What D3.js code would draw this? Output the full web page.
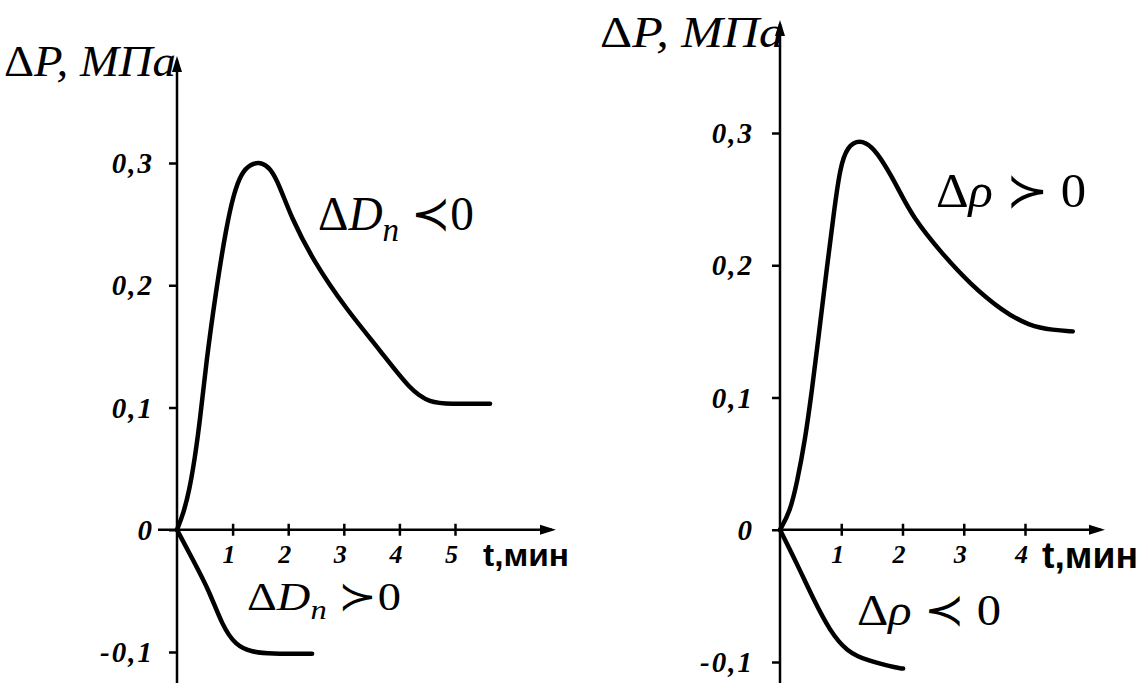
<!DOCTYPE html>
<html>
<head>
<meta charset="utf-8">
<script src="https://cdn.jsdelivr.net/npm/d3@7"></script>
<style>
  html, body { margin: 0; padding: 0; background: #fff; }
  svg { display: block; }
</style>
</head>
<body>
<div id="chart"></div>
<script>
// data (t in minutes, dP in MPa)
var yTicks = [-0.1, 0, 0.1, 0.2, 0.3];
var leftXTicks = [1, 2, 3, 4, 5];
var rightXTicks = [1, 2, 3, 4];

// left panel, dD < 0
var leftUpT = [0, 0.12, 0.22, 0.32, 0.42, 0.52, 0.70, 0.88, 1.02, 1.16, 1.32, 1.50, 1.68, 1.85, 2.05, 2.45, 3.05, 3.65, 4.20, 4.55, 4.90, 5.63];
var leftUpP = [0, 0.014, 0.032, 0.058, 0.092, 0.135, 0.195, 0.246, 0.275, 0.292, 0.299, 0.301, 0.296, 0.281, 0.256, 0.220, 0.180, 0.147, 0.114, 0.104, 0.103, 0.103];
// left panel, dD > 0
var leftDownT = [0, 0.29, 0.58, 0.81, 1.06, 1.35, 1.67, 2.43];
var leftDownP = [0, -0.025, -0.050, -0.078, -0.095, -0.100, -0.1015, -0.1015];
// right panel, drho > 0
var rightUpT = [0, 0.16, 0.28, 0.41, 0.52, 0.62, 0.77, 0.88, 0.98, 1.10, 1.30, 1.50, 1.70, 1.92, 2.17, 2.66, 3.10, 3.64, 4.08, 4.46, 4.78];
var rightUpP = [0, 0.013, 0.036, 0.068, 0.105, 0.142, 0.200, 0.240, 0.274, 0.290, 0.295, 0.290, 0.277, 0.259, 0.236, 0.208, 0.186, 0.165, 0.154, 0.151, 0.150];
// right panel, drho < 0
var rightDownT = [0, 0.28, 0.54, 0.82, 1.09, 1.42, 1.96, 2.01];
var rightDownP = [0, -0.026, -0.052, -0.077, -0.092, -0.099, -0.105, -0.105];

var W = 1148, H = 683;
var serif = "'Liberation Serif', 'DejaVu Serif', serif";
var sans = "'Liberation Sans', Arial, sans-serif";

var svg = d3.select('#chart').append('svg').attr('width', W).attr('height', H);

var fmt = function (d) { return d === 0 ? '0' : d3.format('.1f')(d).replace('.', ',').replace('\u2212', '-'); };

function arrowHead(g, x, y, dir) {
    // filled triangle pointing up or right
    var p;
    if (dir === 'up') p = [[x, y], [x - 5, y + 16], [x + 5, y + 16]];
    else p = [[x, y], [x - 16, y - 5], [x - 16, y + 5]];
    g.append('path').attr('d', 'M' + p.join('L') + 'Z').attr('fill', '#000');
}

function drawPanel(cfg) {
    var g = svg.append('g');
    var x = d3.scaleLinear().domain(cfg.xDomain).range(cfg.xRange);
    var y = d3.scaleLinear().domain([-0.1, 0.3]).range(cfg.yRange);
    var x0 = x(0), y0 = y(0);

    // y axis ticks
    var ya = g.append('g').attr('transform', 'translate(' + x0 + ',0)')
        .call(d3.axisLeft(y).tickValues(yTicks).tickSize(8).tickPadding(cfg.yPad).tickFormat(fmt));
    ya.attr('font-size', null).attr('font-family', null);
    ya.select('.domain').remove();
    ya.selectAll('.tick line').attr('stroke-width', 2.5);
    ya.selectAll('.tick text').attr('font-family', serif).attr('font-style', 'italic')
        .attr('font-weight', 'bold').attr('font-size', 29).attr('letter-spacing', 2).attr('dy', '0.33em');

    // x axis ticks
    var xa = g.append('g').attr('transform', 'translate(0,' + y0 + ')')
        .call(d3.axisBottom(x).tickValues(cfg.xTicks).tickSize(6).tickPadding(9).tickFormat(d3.format('d')));
    xa.attr('font-size', null).attr('font-family', null);
    xa.select('.domain').remove();
    xa.selectAll('.tick line').attr('y1', -6).attr('y2', 6).attr('stroke-width', 2.5);
    xa.selectAll('.tick text').attr('font-family', serif).attr('font-style', 'italic')
        .attr('font-weight', 'bold').attr('font-size', 26).attr('dx', -4);

    // axis lines with arrows
    g.append('line').attr('x1', x0).attr('x2', x0).attr('y1', H).attr('y2', cfg.yTop + 4)
        .attr('stroke', '#000').attr('stroke-width', 2.5);
    arrowHead(g, x0, cfg.yTop, 'up');
    g.append('line').attr('x1', cfg.xStart).attr('x2', cfg.xEnd - 4).attr('y1', y0).attr('y2', y0)
        .attr('stroke', '#000').attr('stroke-width', 2.5);
    arrowHead(g, cfg.xEnd, y0, 'right');

    // curves
    var line = d3.line().x(function (d) { return x(d[0]); }).y(function (d) { return y(d[1]); })
        .curve(d3.curveBasis);
    cfg.series.forEach(function (s) {
        g.append('path').datum(d3.zip(s[0], s[1])).attr('d', line)
            .attr('fill', 'none').attr('stroke', '#000').attr('stroke-width', 4.5)
            .attr('stroke-linecap', 'round').attr('stroke-linejoin', 'round');
    });

    // axis titles
    var yt = g.append('text').attr('x', cfg.yTitle[0]).attr('y', cfg.yTitle[1])
        .attr('font-family', serif).attr('font-style', 'italic').attr('font-size', 44)
        .attr('textLength', cfg.yTitle[2]).attr('lengthAdjust', 'spacingAndGlyphs');
    yt.append('tspan').attr('font-style', 'normal').text('\u0394');
    yt.append('tspan').text('P, \u041C\u041F\u0430');

    g.append('text').attr('x', cfg.xTitle[0]).attr('y', cfg.xTitle[1])
        .attr('font-family', sans).attr('font-weight', 'bold').attr('font-size', cfg.xTitle[3])
        .attr('textLength', cfg.xTitle[2]).attr('lengthAdjust', 'spacingAndGlyphs')
        .text('t,\u043C\u0438\u043D');

    // curve annotations
    cfg.notes.forEach(function (n) {
        var t = g.append('text').attr('x', n.x).attr('y', n.y).attr('font-family', serif)
            .attr('font-size', n.size).attr('textLength', n.w).attr('lengthAdjust', 'spacingAndGlyphs');
        t.append('tspan').text('\u0394');
        n.parts.forEach(function (p) {
            var s = t.append('tspan').text(p.text);
            if (p.italic) s.attr('font-style', 'italic');
            if (p.sub) s.attr('font-size', n.size * 0.7).attr('dy', n.size * 0.22);
            if (p.unsub) s.attr('dy', -n.size * 0.22);
        });
    });
}

drawPanel({
    xDomain: [0, 5], xRange: [177, 455], yRange: [652, 163],
    xTicks: leftXTicks, yPad: 15, yTop: 56, xStart: 158, xEnd: 556,
    series: [[leftUpT, leftUpP], [leftDownT, leftDownP]],
    yTitle: [4, 76, 172], xTitle: [483, 566, 86, 32],
    notes: [
        {x: 318, y: 230, size: 48, w: 156, parts: [{text: 'D', italic: true}, {text: '\u043F', italic: true, sub: true}, {text: ' \u227A0', unsub: true}]},
        {x: 247, y: 610, size: 40, w: 154, parts: [{text: 'D', italic: true}, {text: '\u043F', italic: true, sub: true}, {text: ' \u227B0', unsub: true}]}
    ]
});

drawPanel({
    xDomain: [0, 4], xRange: [780, 1025], yRange: [662, 133],
    xTicks: rightXTicks, yPad: 18, yTop: 20, xStart: 778, xEnd: 1105,
    series: [[rightUpT, rightUpP], [rightDownT, rightDownP]],
    yTitle: [600, 47, 184], xTitle: [1042, 568, 96, 36],
    notes: [
        {x: 936, y: 207, size: 48, w: 150, parts: [{text: '\u03C1', italic: true}, {text: ' \u227B 0'}]},
        {x: 857, y: 625, size: 44, w: 144, parts: [{text: '\u03C1', italic: true}, {text: ' \u227A 0'}]}
    ]
});
</script>
</body>
</html>
